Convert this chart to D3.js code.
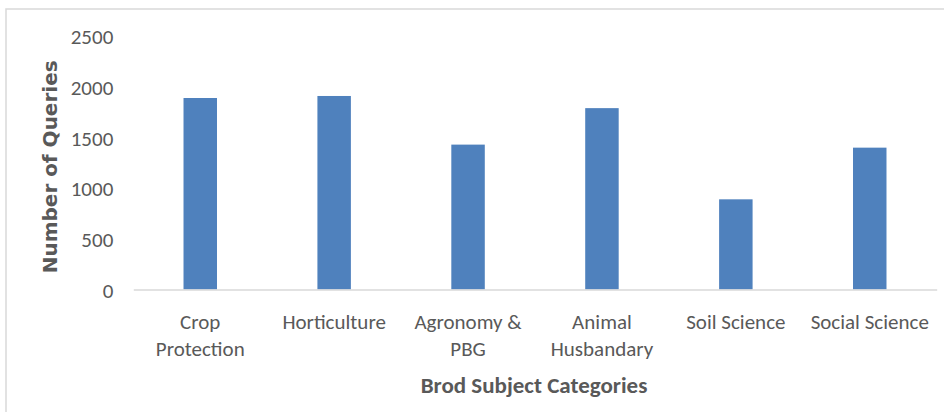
<!DOCTYPE html>
<html>
<head>
<meta charset="utf-8">
<script src="https://cdn.jsdelivr.net/npm/d3@7"></script>
<style>
  html, body { margin: 0; padding: 0; background: #fff; }
  svg { display: block; }
  .lbl { font-family: Carlito, Lato, "Liberation Sans", sans-serif; fill: #595959; }
</style>
</head>
<body>
<svg id="chart" width="944" height="412"></svg>
<script>
const categories = ["Crop Protection", "Horticulture", "Agronomy & PBG", "Animal Husbandary", "Soil Science", "Social Science"];
const categoryLines = [["Crop", "Protection"], ["Horticulture"], ["Agronomy &", "PBG"], ["Animal", "Husbandary"], ["Soil Science"], ["Social Science"]];
const values = [1890, 1910, 1430, 1790, 890, 1400];
const yTicks = [0, 500, 1000, 1500, 2000, 2500];
const yTitle = "Number of Queries";
const xTitle = "Brod Subject Categories";

const svg = d3.select("#chart");
const W = 944, H = 412;
const plot = { left: 133.3, right: 936.7, top: 36.2, bottom: 289.5 };

// outer chart border (only top/left visible in crop)
svg.append("rect")
  .attr("x", 6).attr("y", 9)
  .attr("width", W + 20).attr("height", H + 20)
  .attr("fill", "#fff").attr("stroke", "#d9d9d9").attr("stroke-width", 1.5);

const x = d3.scaleBand()
  .domain(categories)
  .range([plot.left, plot.right])
  .paddingInner(0.75)
  .paddingOuter(0.375);

const y = d3.scaleLinear()
  .domain([0, 2500])
  .range([plot.bottom, plot.top]);

// bars
svg.append("g").selectAll("rect")
  .data(categories)
  .join("rect")
  .attr("x", d => x(d))
  .attr("width", x.bandwidth())
  .attr("y", (d, i) => y(values[i]))
  .attr("height", (d, i) => y(0) - y(values[i]))
  .attr("fill", "#4f81bd");

// y axis (labels only)
const yAxis = svg.append("g")
  .attr("transform", `translate(${plot.left - 20},0)`)
  .call(d3.axisLeft(y).tickValues(yTicks).tickFormat(d3.format("d")).tickSize(0).tickPadding(0));
yAxis.select(".domain").remove();
yAxis.selectAll("text")
  .attr("class", "lbl")
  .attr("font-size", 21)
  .attr("font-family", null)
  .attr("dy", "0.36em");

// x axis
const xAxis = svg.append("g")
  .attr("transform", `translate(0,${plot.bottom})`)
  .call(d3.axisBottom(x).tickSize(0).tickSizeOuter(0).tickPadding(0));
xAxis.select(".domain").attr("stroke", "#d9d9d9").attr("stroke-width", 1.5);
xAxis.selectAll(".tick text").each(function(d, i) {
  const t = d3.select(this);
  t.text(null)
    .attr("class", "lbl")
    .attr("font-size", 21)
    .attr("font-family", null)
    .attr("y", 0)
    .attr("dy", null);
  categoryLines[i].forEach((line, k) => {
    t.append("tspan")
      .attr("x", 0)
      .attr("y", 39 + k * 27.5)
      .text(line);
  });
});

// axis titles
svg.append("text")
  .attr("transform", `translate(57,${(plot.top + plot.bottom) / 2 + 4}) rotate(-90)`)
  .attr("text-anchor", "middle")
  .attr("font-family", "'DejaVu Sans', sans-serif")
  .attr("font-weight", "bold")
  .attr("font-size", 20)
  .attr("fill", "#595959")
  .text(yTitle);

svg.append("text")
  .attr("class", "lbl")
  .attr("x", 534)
  .attr("y", 393)
  .attr("text-anchor", "middle")
  .attr("font-weight", "bold")
  .attr("font-size", 23)
  .text(xTitle);
</script>
</body>
</html>
